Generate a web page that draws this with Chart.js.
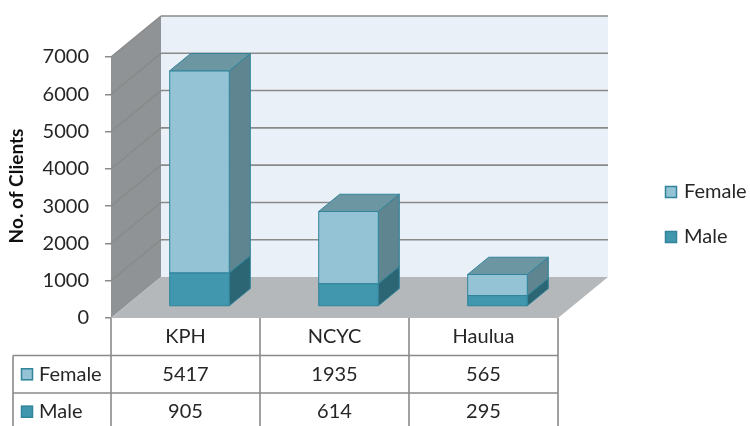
<!DOCTYPE html>
<html>
<head>
<meta charset="utf-8">
<script src="https://cdn.jsdelivr.net/npm/chart.js@4"></script>
<style>
  html, body { margin: 0; padding: 0; background: #fff; }
</style>
</head>
<body>
<canvas id="clientsChart" width="750" height="426"></canvas>
<script>
// ===== Data =====
const categories = ['KPH', 'NCYC', 'Haulua'];
const femaleClients = [5417, 1935, 565];
const maleClients = [905, 614, 295];
const yTicks = [0, 1000, 2000, 3000, 4000, 5000, 6000, 7000];

// ===== Look =====
const FONT = 'Lato, "Open Sans", sans-serif';
const TEXT = '#262626';
const GRID = '#8a8a8a';
const DEPTH = { dx: 50, dy: -41 };     // back wall offset from front plane
const BAR_FRONT = 0.28, BAR_BACK = 0.70; // bar position inside the depth

const COLORS = {
  Female: { front: '#93c3d5', side: '#5e8590', top: '#6c97a2' },
  Male:   { front: '#4197ae', side: '#2c6675', top: '#3a8095' },
  edge: '#31849a'
};

function poly(ctx, pts, fill, stroke) {
  ctx.beginPath();
  ctx.moveTo(pts[0][0], pts[0][1]);
  for (let i = 1; i < pts.length; i++) ctx.lineTo(pts[i][0], pts[i][1]);
  ctx.closePath();
  ctx.fillStyle = fill;
  ctx.fill();
  if (stroke) {
    ctx.strokeStyle = stroke;
    ctx.lineWidth = 1;
    ctx.stroke();
  }
}

function line(ctx, x1, y1, x2, y2) {
  ctx.beginPath();
  ctx.moveTo(x1, y1);
  ctx.lineTo(x2, y2);
  ctx.stroke();
}

function keyBox(ctx, x, y, color) {
  ctx.fillStyle = color;
  ctx.fillRect(x, y, 12, 12);
  ctx.strokeStyle = COLORS.edge;
  ctx.lineWidth = 1.5;
  ctx.strokeRect(x + 0.5, y + 0.5, 11, 11);
}

// ===== 3D walls, floor and bars =====
const threeD = {
  id: 'threeD',
  beforeDatasetsDraw(chart) {
    const { ctx, chartArea: a, scales: { y } } = chart;
    const { dx, dy } = DEPTH;
    const y0 = y.getPixelForValue(yTicks[0]);
    const yTop = y.getPixelForValue(yTicks[yTicks.length - 1]);
    ctx.save();
    // back wall
    poly(ctx, [[a.left + dx, yTop + dy], [a.right + dx, yTop + dy], [a.right + dx, y0 + dy], [a.left + dx, y0 + dy]], '#e9f0f7');
    // side wall
    poly(ctx, [[a.left, yTop], [a.left + dx, yTop + dy], [a.left + dx, y0 + dy], [a.left, y0]], '#8f9395');
    // floor
    poly(ctx, [[a.left, y0], [a.left + dx, y0 + dy], [a.right + dx, y0 + dy], [a.right, y0]], '#b5b8bb');
    // gridlines
    ctx.strokeStyle = GRID;
    ctx.lineWidth = 1.6;
    yTicks.slice(1).forEach(v => {
      const py = y.getPixelForValue(v);
      line(ctx, a.left + dx, py + dy, a.right + dx, py + dy);
      line(ctx, a.left, py, a.left + dx, py + dy);
    });
    ctx.restore();
  },
  beforeDatasetDraw() {
    return false; // flat bars are replaced by the boxes below
  },
  afterDatasetsDraw(chart) {
    const { ctx } = chart;
    const fx = DEPTH.dx * BAR_FRONT, fy = DEPTH.dy * BAR_FRONT;
    const bx = DEPTH.dx * BAR_BACK, by = DEPTH.dy * BAR_BACK;
    ctx.save();
    categories.forEach((c, i) => {
      chart.data.datasets.forEach((ds, d) => {
        const el = chart.getDatasetMeta(d).data[i];
        const col = COLORS[ds.label];
        const x0 = el.x - el.width / 2, x1 = el.x + el.width / 2;
        const t = el.y, b = el.base;
        // side
        poly(ctx, [[x1 + fx, t + fy], [x1 + bx, t + by], [x1 + bx, b + by], [x1 + fx, b + fy]], col.side, COLORS.edge);
        // front
        poly(ctx, [[x0 + fx, t + fy], [x1 + fx, t + fy], [x1 + fx, b + fy], [x0 + fx, b + fy]], col.front, COLORS.edge);
        // top
        poly(ctx, [[x0 + fx, t + fy], [x0 + bx, t + by], [x1 + bx, t + by], [x1 + fx, t + fy]], col.top, COLORS.edge);
      });
    });
    ctx.restore();
  },
  afterDraw(chart) {
    const { ctx, chartArea: a, scales: { x } } = chart;
    const rowH = 37.5;
    const top = a.bottom;
    const step = x.getPixelForValue(1) - x.getPixelForValue(0);
    const rows = [
      { label: 'Female', values: femaleClients, color: COLORS.Female.front },
      { label: 'Male', values: maleClients, color: COLORS.Male.front }
    ];
    const tableLeft = 13;

    ctx.save();
    // ----- data table grid -----
    ctx.strokeStyle = GRID;
    ctx.lineWidth = 1.6;
    categories.forEach((c, i) => {
      const cx = x.getPixelForValue(i);
      line(ctx, cx - step / 2, top, cx - step / 2, 426);
    });
    line(ctx, a.right, top, a.right, 426);
    line(ctx, tableLeft, top + rowH, tableLeft, 426);
    rows.forEach((r, k) => {
      const ly = top + rowH * (k + 1);
      line(ctx, tableLeft, ly, a.right, ly);
    });

    // ----- table text -----
    ctx.fillStyle = TEXT;
    ctx.font = '20px ' + FONT;
    ctx.textAlign = 'center';
    ctx.textBaseline = 'middle';
    categories.forEach((c, i) => {
      ctx.fillText(c, x.getPixelForValue(i), top + rowH / 2);
    });
    rows.forEach((r, k) => {
      const cy = top + rowH * (k + 1.5);
      keyBox(ctx, 21, cy - 6, r.color);
      ctx.fillStyle = TEXT;
      ctx.textAlign = 'left';
      ctx.fillText(r.label, 39, cy);
      ctx.textAlign = 'center';
      r.values.forEach((v, i) => ctx.fillText(String(v), x.getPixelForValue(i), cy));
    });

    // ----- legend -----
    ctx.textAlign = 'left';
    [['Female', 192], ['Male', 237]].forEach(([name, ly]) => {
      keyBox(ctx, 665, ly - 6, COLORS[name].front);
      ctx.fillStyle = TEXT;
      ctx.fillText(name, 684, ly);
    });

    // ----- axis title -----
    ctx.translate(17, 186);
    ctx.rotate(-Math.PI / 2);
    ctx.font = 'bold 19px ' + FONT;
    ctx.textAlign = 'center';
    ctx.fillStyle = '#111';
    ctx.fillText('No. of Clients', 0, 0);
    ctx.restore();
  }
};

// ===== Chart =====
const chart = new Chart(document.getElementById('clientsChart'), {
  type: 'bar',
  data: {
    labels: categories,
    datasets: [
      { label: 'Male', data: maleClients, backgroundColor: COLORS.Male.front },
      { label: 'Female', data: femaleClients, backgroundColor: COLORS.Female.front }
    ]
  },
  options: {
    responsive: false,
    animation: false,
    categoryPercentage: 1,
    barPercentage: 0.4,
    layout: { padding: { top: 57, bottom: 108, left: 0, right: 192 } },
    plugins: {
      legend: { display: false },
      tooltip: { enabled: false }
    },
    scales: {
      x: { stacked: true, display: false },
      y: {
        stacked: true,
        min: yTicks[0],
        max: yTicks[yTicks.length - 1],
        afterFit: s => { s.width = 111; },
        afterBuildTicks: s => { s.ticks = yTicks.map(v => ({ value: v })); },
        border: { display: false },
        grid: { drawOnChartArea: false, tickLength: 6, color: GRID, lineWidth: 1.5 },
        ticks: {
          padding: 16,
          color: TEXT,
          font: { family: FONT, size: 20 },
          callback: v => String(v)
        }
      }
    }
  },
  plugins: [threeD]
});
</script>
</body>
</html>
